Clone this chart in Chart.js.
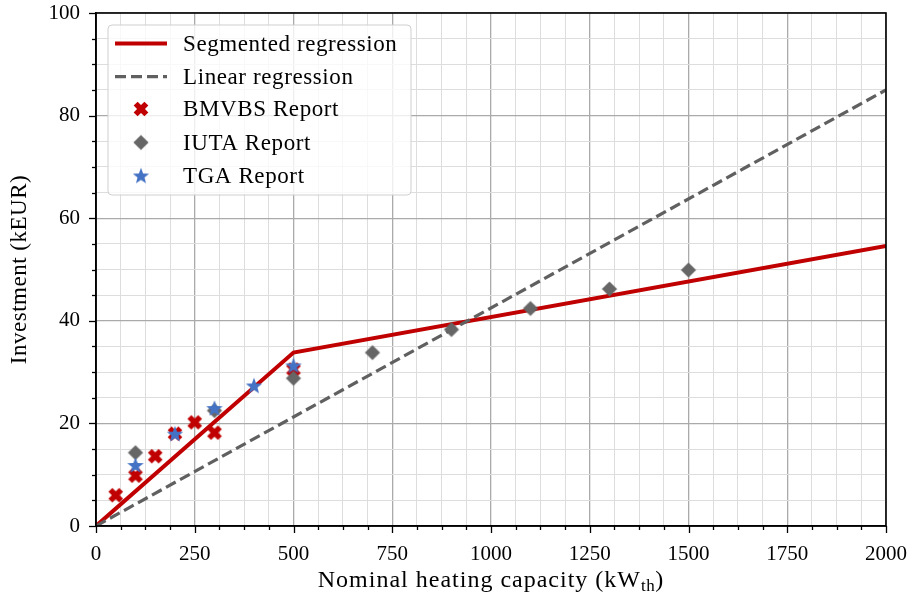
<!DOCTYPE html>
<html><head><meta charset="utf-8">
<script src="https://cdn.jsdelivr.net/npm/chart.js@4/dist/chart.umd.min.js"></script>
<style>html,body{margin:0;padding:0;background:#fff}#wrap{width:914px;height:599px;position:relative}</style>
</head><body><div id="wrap"><canvas id="c" width="914" height="599"></canvas></div>
<script>
// ---- data ----
const bmvbsX = [50, 100, 150, 200, 250, 300, 500];
const bmvbsY = [6.0, 9.8, 13.6, 18.0, 20.2, 18.2, 30.5];
const iutaX = [100, 300, 500, 700, 900, 1100, 1300, 1500];
const iutaY = [14.3, 22.5, 28.8, 33.8, 38.3, 42.4, 46.2, 49.9];
const tgaX = [100, 200, 300, 400, 500];
const tgaY = [11.9, 18.0, 23.0, 27.4, 31.3];
const segX = [0, 500, 2000];
const segY = [0, 33.8, 54.6];
const linX = [0, 2000];
const linY = [0, 85.0];
const xTickLabels = [0, 250, 500, 750, 1000, 1250, 1500, 1750, 2000];
const yTickLabels = [0, 20, 40, 60, 80, 100];
const seriesNames = ['Segmented regression', 'Linear regression', 'BMVBS Report', 'IUTA Report', 'TGA Report'];

const RED = '#c00000', GRAY = '#666666', DASH = '#606060', BLUE = '#4472c4';
const FONT = "'Liberation Serif', 'Times New Roman', serif";
const DASHPAT = [11, 5];

function pts(xs, ys) { return xs.map((x, i) => ({ x: x, y: ys[i] })); }
function markerCanvas(size, draw) {
  const c = document.createElement('canvas'); c.width = c.height = size;
  const g = c.getContext('2d'); g.translate(size / 2, size / 2); draw(g); return c;
}
const xMarker = markerCanvas(20, g => {
  g.rotate(Math.PI / 4); const w = 2.8, L = 7.6;
  g.beginPath();
  g.moveTo(-w, -L); g.lineTo(w, -L); g.lineTo(w, -w); g.lineTo(L, -w); g.lineTo(L, w); g.lineTo(w, w);
  g.lineTo(w, L); g.lineTo(-w, L); g.lineTo(-w, w); g.lineTo(-L, w); g.lineTo(-L, -w); g.lineTo(-w, -w);
  g.closePath(); g.fillStyle = RED; g.fill();
});
const dMarker = markerCanvas(20, g => {
  const r = 7.6; g.beginPath(); g.moveTo(0, -r); g.lineTo(r, 0); g.lineTo(0, r); g.lineTo(-r, 0); g.closePath();
  g.fillStyle = GRAY; g.fill();
});
const sMarker = markerCanvas(20, g => {
  const R = 8.6, r = R * 0.42; g.beginPath();
  for (let i = 0; i < 10; i++) {
    const a = -Math.PI / 2 + i * Math.PI / 5, rr = i % 2 ? r : R;
    const px = rr * Math.cos(a), py = rr * Math.sin(a) + 0.8;
    if (i) g.lineTo(px, py); else g.moveTo(px, py);
  }
  g.closePath(); g.fillStyle = BLUE; g.fill();
});

const LEFT = 96, TOP = 13, RIGHT = 886, BOTTOM = 526;

const framePlugin = {
  id: 'frame',
  afterDatasetsDraw(chart) {
    const ctx = chart.ctx;
    ctx.save();
    const bx = 108, by = 25, bw = 303, bh = 170, rad = 4;
    ctx.beginPath(); ctx.roundRect(bx, by, bw, bh, rad);
    ctx.fillStyle = 'rgba(255,255,255,0.8)'; ctx.fill();
    ctx.strokeStyle = '#cfcfcf'; ctx.lineWidth = 1; ctx.stroke();
    const rows = [43.5, 76.7, 109, 142.5, 175.5];
    ctx.font = '23px ' + FONT; ctx.letterSpacing = '0.6px';
    ctx.fillStyle = '#000'; ctx.textBaseline = 'middle'; ctx.textAlign = 'left';
    ctx.strokeStyle = RED; ctx.lineWidth = 4; ctx.setLineDash([]);
    ctx.beginPath(); ctx.moveTo(115, rows[0]); ctx.lineTo(167, rows[0]); ctx.stroke();
    ctx.strokeStyle = DASH; ctx.lineWidth = 3.2; ctx.setLineDash(DASHPAT);
    ctx.beginPath(); ctx.moveTo(115, rows[1]); ctx.lineTo(167, rows[1]); ctx.stroke();
    ctx.setLineDash([]);
    [xMarker, dMarker, sMarker].forEach((m, i) => ctx.drawImage(m, 141 - 10, rows[i + 2] - 10));
    seriesNames.forEach((n, i) => ctx.fillText(n, 183, rows[i] + 1));
    ctx.restore();
  },
  afterDraw(chart) {
    const ctx = chart.ctx, a = chart.chartArea;
    const xs = chart.scales.x, ys = chart.scales.y;
    ctx.save();
    ctx.strokeStyle = '#000'; ctx.lineWidth = 1.3;
    for (let v = 0; v <= 2000; v += 62.5) {
      const px = Math.round(xs.getPixelForValue(v)) + 0.5, len = v % 250 === 0 ? 7 : 4;
      ctx.beginPath(); ctx.moveTo(px, a.bottom); ctx.lineTo(px, a.bottom + len); ctx.stroke();
    }
    for (let v = 0; v <= 100; v += 5) {
      const py = Math.round(ys.getPixelForValue(v)) + 0.5, len = v % 20 === 0 ? 7 : 4;
      ctx.beginPath(); ctx.moveTo(a.left, py); ctx.lineTo(a.left - len, py); ctx.stroke();
    }
    ctx.lineWidth = 1.6;
    ctx.strokeRect(a.left, a.top, a.right - a.left, a.bottom - a.top);
    ctx.fillStyle = '#000';
    ctx.textBaseline = 'alphabetic'; ctx.textAlign = 'left';
    const main = 'Nominal heating capacity (kW', sub = 'th', close = ')';
    ctx.font = '24px ' + FONT; ctx.letterSpacing = '1px';
    const w1 = ctx.measureText(main).width, w3 = ctx.measureText(close).width;
    ctx.font = '17px ' + FONT; ctx.letterSpacing = '0.5px'; const w2 = ctx.measureText(sub).width;
    const total = w1 + w2 + w3; const sx = (a.left + a.right) / 2 - total / 2;
    ctx.font = '24px ' + FONT; ctx.letterSpacing = '1px'; ctx.fillText(main, sx, 587);
    ctx.font = '17px ' + FONT; ctx.letterSpacing = '0.5px'; ctx.fillText(sub, sx + w1, 591);
    ctx.font = '24px ' + FONT; ctx.letterSpacing = '1px'; ctx.fillText(close, sx + w1 + w2, 587);
    ctx.translate(20, (a.top + a.bottom) / 2); ctx.rotate(-Math.PI / 2);
    ctx.textAlign = 'center'; ctx.textBaseline = 'middle';
    ctx.font = '23px ' + FONT; ctx.letterSpacing = '0.5px';
    ctx.fillText('Investment (kEUR)', 0, 0);
    ctx.restore();
  }
};

function gridColor(major) { return ctx => (major.includes(ctx.tick.value) ? '#aaaaaa' : '#dddddd'); }
function gridWidth(major) { return ctx => (major.includes(ctx.tick.value) ? 1.3 : 1); }

new Chart(document.getElementById('c'), {
  type: 'scatter',
  data: {
    datasets: [
      { label: seriesNames[4], data: pts(tgaX, tgaY), pointStyle: sMarker, order: 1 },
      { label: seriesNames[3], data: pts(iutaX, iutaY), pointStyle: dMarker, order: 2 },
      { label: seriesNames[2], data: pts(bmvbsX, bmvbsY), pointStyle: xMarker, order: 3 },
      { label: seriesNames[1], data: pts(linX, linY), showLine: true, borderColor: DASH, borderWidth: 3.2, borderDash: DASHPAT, pointRadius: 0, order: 4 },
      { label: seriesNames[0], data: pts(segX, segY), showLine: true, borderColor: RED, borderWidth: 4, pointRadius: 0, order: 5 }
    ]
  },
  options: {
    responsive: false, animation: false, devicePixelRatio: 1,
    layout: { padding: { top: TOP, right: 914 - RIGHT, left: 0, bottom: 0 } },
    plugins: { legend: { display: false }, tooltip: { enabled: false } },
    elements: { point: { radius: 7, hoverRadius: 7 } },
    scales: {
      x: {
        type: 'linear', min: 0, max: 2000,
        afterBuildTicks: s => { const t = []; for (let v = 0; v <= 2000; v += 62.5) t.push({ value: v }); s.ticks = t; },
        afterFit: s => { s.height = 599 - BOTTOM; s.paddingLeft = 0; s.paddingRight = 0; },
        ticks: { autoSkip: false, maxRotation: 0, minRotation: 0, padding: 16, color: '#000', font: { family: FONT, size: 21 },
          callback: v => (xTickLabels.includes(v) ? String(v) : '') },
        grid: { drawTicks: false, color: gridColor(xTickLabels), lineWidth: gridWidth(xTickLabels) },
        border: { display: true, color: '#000', width: 1.6 }
      },
      y: {
        type: 'linear', min: 0, max: 100,
        afterBuildTicks: s => { const t = []; for (let v = 0; v <= 100; v += 5) t.push({ value: v }); s.ticks = t; },
        afterFit: s => { s.width = LEFT; s.paddingTop = 0; s.paddingBottom = 0; },
        ticks: { autoSkip: false, padding: 16, color: '#000', font: { family: FONT, size: 21 },
          callback: v => (yTickLabels.includes(v) ? String(v) : '') },
        grid: { drawTicks: false, color: gridColor(yTickLabels), lineWidth: gridWidth(yTickLabels) },
        border: { display: true, color: '#000', width: 1.6 }
      }
    }
  },
  plugins: [framePlugin]
});
</script></body></html>
